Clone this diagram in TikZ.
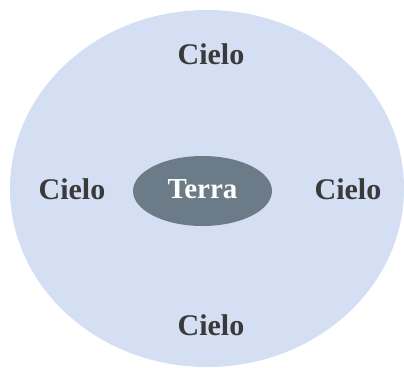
\documentclass[tikz,border=0pt]{standalone}
\usepackage{fontspec}
\setmainfont{Liberation Serif}
\usetikzlibrary{shapes.geometric}
\definecolor{sky}{HTML}{D4DFF3}
\definecolor{earth}{HTML}{6B7B87}
\definecolor{txt}{HTML}{3A3A3A}
\tikzset{lbl/.style={font=\fontsize{30}{34}\selectfont\bfseries, text=txt}}
\begin{document}
\begin{tikzpicture}[x=1pt,y=-1pt]
\useasboundingbox (0,0) rectangle (404,367);
\fill[sky] (207,188.5) ellipse [x radius=197, y radius=178.5];
\node[ellipse, fill=earth, minimum width=139, minimum height=70, inner sep=0pt,
  text depth=4pt, font=\fontsize{29}{33}\selectfont\bfseries, text=white] (terra) at (202.5,191) {Terra};
\node[lbl] (top) at (211,54) {Cielo};
\node[lbl] (bottom) at (211,325.5) {Cielo};
\node[lbl] (left) at (72,189) {Cielo};
\node[lbl] (right) at (348,189) {Cielo};
\end{tikzpicture}
\end{document}
